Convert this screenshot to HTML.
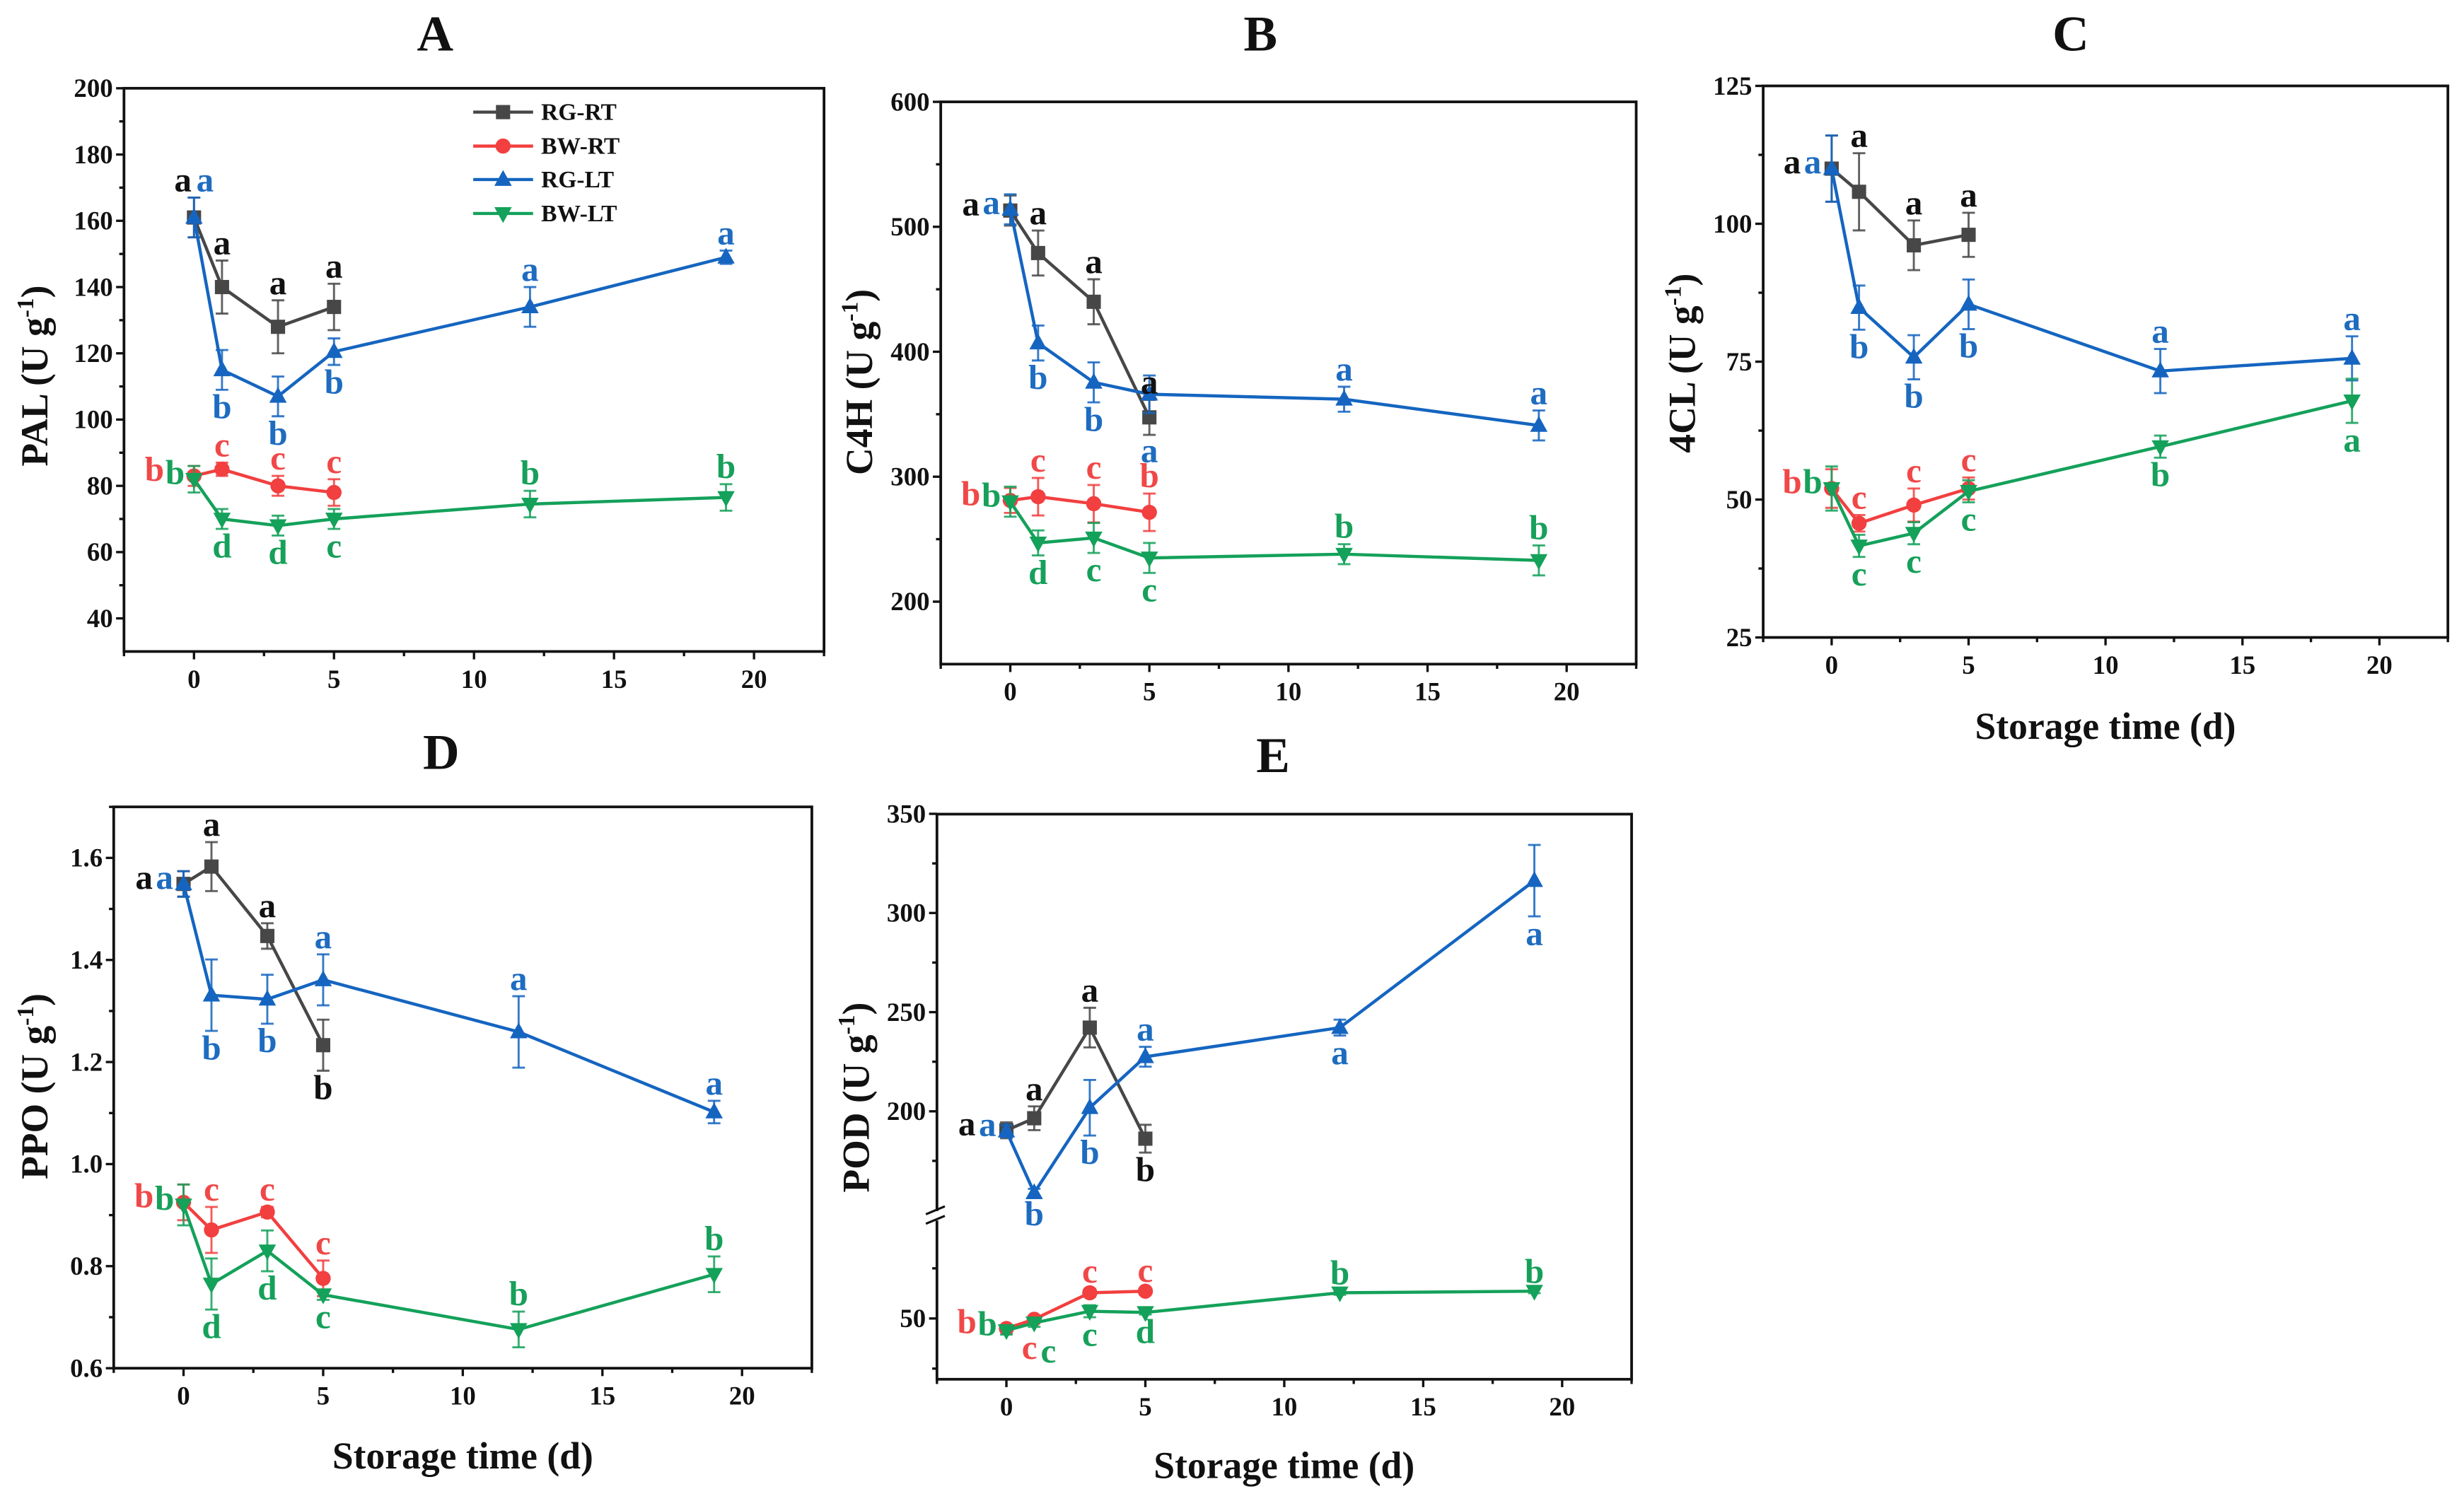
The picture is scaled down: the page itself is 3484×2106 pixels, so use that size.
<!DOCTYPE html>
<html><head><meta charset="utf-8"><style>
html,body{margin:0;padding:0;background:#fff;}
svg{display:block;}
text{font-family:"Liberation Serif","DejaVu Serif",serif;font-weight:bold;}
</style></head><body>
<svg id="fig" xmlns="http://www.w3.org/2000/svg" width="3484" height="2106" viewBox="0 0 1560 943" preserveAspectRatio="none">
<rect x="0" y="0" width="1560" height="943" fill="#fff"/>
</svg>
<script>
// ---- data ----
const days = [0, 1, 3, 5, 12, 19];
const seriesNames = ['RG-RT', 'BW-RT', 'RG-LT', 'BW-LT'];
// Panel A (PAL)
const palRGRT = [161, 140, 128, 134];
const palRGRTerr = [6, 8, 8, 7];
const palBWRT = [83, 85, 80, 78];
const palBWRTerr = [3, 2, 3, 4];
const palRGLT = [161, 115, 107, 120.5, 134, 149];
const palRGLTerr = [6, 6, 6, 4, 6, 2];
const palBWLT = [82, 70, 68, 70, 74.5, 76.5];
const palBWLTerr = [4, 3, 3, 3, 4, 4];
// Panel B (C4H)
const c4hRGRT = [513, 479, 440, 347.5];
const c4hRGRTerr = [12, 18, 18, 14];
const c4hBWRT = [281, 284, 278.4, 271.5];
const c4hBWRTerr = [10, 15, 15, 15];
const c4hRGLT = [514, 407, 375.5, 366, 362, 341];
const c4hRGLTerr = [12, 14, 16, 15, 10, 12];
const c4hBWLT = [280, 247, 251, 235, 238, 233];
const c4hBWLTerr = [12, 10, 12, 12, 8, 12];
// Panel C (4CL)
const cl4RGRT = [110, 105.8, 96.1, 98];
const cl4RGRTerr = [6, 7, 4.5, 4];
const cl4BWRT = [52, 45.7, 49, 52];
const cl4BWRTerr = [3.5, 1.5, 3, 2];
const cl4RGLT = [110, 84.8, 75.8, 85.4, 73.3, 75.6];
const cl4RGLTerr = [6, 4, 4, 4.5, 4, 4];
const cl4BWLT = [52, 41.6, 43.9, 51.5, 59.6, 67.9];
const cl4BWLTerr = [4, 2, 2, 2, 2, 4];
// Panel D (PPO)
const ppoRGRT = [1.549, 1.583, 1.447, 1.233];
const ppoRGRTerr = [0.025, 0.048, 0.025, 0.05];
const ppoBWRT = [0.925, 0.871, 0.906, 0.776];
const ppoBWRTerr = [0.035, 0.045, 0.01, 0.035];
const ppoRGLT = [1.549, 1.331, 1.323, 1.361, 1.259, 1.102];
const ppoRGLTerr = [0.025, 0.07, 0.048, 0.05, 0.07, 0.022];
const ppoBWLT = [0.92, 0.765, 0.83, 0.744, 0.676, 0.784];
const ppoBWLTerr = [0.04, 0.05, 0.04, 0.01, 0.035, 0.035];
// Panel E (POD)
const podRGRT = [190.4, 196.5, 242.2, 186.2];
const podRGRTerr = [4, 6, 10, 7];
const podBWRT = [45, 49.6, 62.8, 63.6];
const podBWRTerr = [1.5, 1.5, 2, 1.5];
const podRGLT = [190, 158.9, 201.8, 227.5, 242.2, 316.3];
const podRGLTerr = [3, 2, 14, 5, 4, 18];
const podBWLT = [44, 47.8, 53.6, 53, 62.8, 63.6];
const podBWLTerr = [2, 2, 3, 1, 1, 1];
// tick labels
const xTicks = [0, 5, 10, 15, 20];
const palTicks = [40, 60, 80, 100, 120, 140, 160, 180, 200];
const c4hTicks = [200, 300, 400, 500, 600];
const cl4Ticks = [25, 50, 75, 100, 125];
const ppoTicks = [0.6, 0.8, 1.0, 1.2, 1.4, 1.6];
const podTicksUpper = [200, 250, 300, 350];
const podTicksLower = [50];
// significance letters: [series index, point index, letter, placement]
const palLetters = [[0,0,'a','U1'],[2,0,'a','U2'],[0,1,'a','u'],[0,2,'a','u'],[0,3,'a','u'],
 [2,1,'b','d'],[2,2,'b','d'],[2,3,'b','d'],[2,4,'a','u'],[2,5,'a','u'],
 [1,0,'b','L1'],[3,0,'b','L2'],[1,1,'c','u'],[1,2,'c','u'],[1,3,'c','u'],
 [3,1,'d','d'],[3,2,'d','d'],[3,3,'c','d'],[3,4,'b','u'],[3,5,'b','u']];
const c4hLetters = [[0,0,'a','L1'],[2,0,'a','L2'],[0,1,'a','u'],[0,2,'a','u'],[0,3,'a','u'],
 [2,1,'b','d'],[2,2,'b','d'],[2,3,'a','d2'],[2,4,'a','u'],[2,5,'a','u'],
 [1,0,'b','L1'],[3,0,'b','L2'],[1,1,'c','u'],[1,2,'c','u'],[1,3,'b','u'],
 [3,1,'d','d'],[3,2,'c','d'],[3,3,'c','d'],[3,4,'b','u'],[3,5,'b','u']];
const cl4Letters = [[0,0,'a','L1'],[2,0,'a','L2'],[0,1,'a','u'],[0,2,'a','u'],[0,3,'a','u'],
 [2,1,'b','d'],[2,2,'b','d'],[2,3,'b','d'],[2,4,'a','u'],[2,5,'a','u'],
 [1,0,'b','L1'],[3,0,'b','L2'],[1,1,'c','u'],[1,2,'c','u'],[1,3,'c','u'],
 [3,1,'c','d'],[3,2,'c','d'],[3,3,'c','d'],[3,4,'b','d'],[3,5,'a','d']];
const ppoLetters = [[0,0,'a','L1'],[2,0,'a','L2'],[0,1,'a','u'],[0,2,'a','u'],[0,3,'b','d'],
 [2,1,'b','d'],[2,2,'b','d'],[2,3,'a','u'],[2,4,'a','u'],[2,5,'a','u'],
 [1,0,'b','L1'],[3,0,'b','L2'],[1,1,'c','u'],[1,2,'c','u'],[1,3,'c','u'],
 [3,1,'d','d'],[3,2,'d','d'],[3,3,'c','d'],[3,4,'b','u'],[3,5,'b','u']];
const podLetters = [[0,0,'a','L1'],[2,0,'a','L2'],[0,1,'a','u'],[0,2,'a','u'],[0,3,'b','d'],
 [2,1,'b','d'],[2,2,'b','d'],[2,3,'a','u'],[2,4,'a','d'],[2,5,'a','d'],
 [1,0,'b','L1'],[3,0,'b','L2'],[1,1,'c','D1'],[1,2,'c','u'],[1,3,'c','u'],
 [3,1,'c','D2'],[3,2,'c','d'],[3,3,'d','d'],[3,4,'b','u'],[3,5,'b','u']];

// ---- rendering ----
const NS = 'http://www.w3.org/2000/svg';
const svg = document.getElementById('fig');
const lineCol = ['#474747', '#f23f3f', '#1565c0', '#14a15a'];
const textCol = ['#111111', '#f04848', '#1e6cc0', '#17a05a'];
const markers = ['square', 'circle', 'up', 'down'];
function mk(tag, attrs, parent) {
  const e = document.createElementNS(NS, tag);
  for (const k in attrs) e.setAttribute(k, attrs[k]);
  (parent || svg).appendChild(e);
  return e;
}
function marker(g, type, x, y, col) {
  if (type === 'square') return mk('rect', {x: x-4.5, y: y-4.5, width: 9, height: 9, fill: col}, g);
  if (type === 'circle') return mk('circle', {cx: x, cy: y, r: 4.8, fill: col}, g);
  if (type === 'up') return mk('polygon', {points: `${x},${y-6} ${x-5.5},${y+4} ${x+5.5},${y+4}`, fill: col}, g);
  return mk('polygon', {points: `${x},${y+6} ${x-5.5},${y-4} ${x+5.5},${y-4}`, fill: col}, g);
}
function panel(p) {
  const g = mk('g', {});
  
  
  const X = d => p.x0 + (d - (-2.5)) / 25 * (p.x1 - p.x0);
  const Y = p.yfn;
  const fr = mk('rect', {x: p.x0, y: p.y0, width: p.x1 - p.x0, height: p.y1 - p.y0, fill: 'none', stroke: '#111', 'stroke-width': 1.7}, g);
  
  
  for (let d = -2.5; d <= 22.5; d += 2.5) {
    const major = xTicks.includes(d);
    mk('line', {x1: X(d), x2: X(d), y1: p.y1, y2: p.y1 + (major ? 5 : 3), stroke: '#111', 'stroke-width': 1.5}, g);
  }
  xTicks.forEach(t => {
    const tx = mk('text', {x: X(t), y: p.y1 + 23, 'font-size': 16.5, 'text-anchor': 'middle', fill: '#111'}, g);
    tx.textContent = t;
    
    
  });
  p.minor.forEach(v => mk('line', {x1: p.x0 - 3, x2: p.x0, y1: Y(v), y2: Y(v), stroke: '#111', 'stroke-width': 1.5}, g));
  p.ticks.forEach(v => {
    mk('line', {x1: p.x0 - 5, x2: p.x0, y1: Y(v), y2: Y(v), stroke: '#111', 'stroke-width': 1.5}, g);
    const tx = mk('text', {x: p.x0 - 7, y: Y(v) + 5.5, 'font-size': 16.5, 'text-anchor': 'end', fill: '#111'}, g);
    tx.textContent = p.fmt ? p.fmt(v) : v;
    
    
  });
  if (p.brk) {
    mk('rect', {x: p.x0 - 6, y: p.brk - 3, width: 10, height: 6, fill: '#fff'}, g);
    mk('line', {x1: p.x0 - 7, y1: p.brk - 1, x2: p.x0 + 5, y2: p.brk - 6, stroke: '#111', 'stroke-width': 1.4}, g);
    mk('line', {x1: p.x0 - 7, y1: p.brk + 5, x2: p.x0 + 5, y2: p.brk, stroke: '#111', 'stroke-width': 1.4}, g);
  }
  p.series.forEach((s, si) => {
    const sg = mk('g', {}, g);
    
    
    const pts = s.v.map((v, i) => [X(days[i]), Y(v)]);
    mk('polyline', {points: pts.map(q => q.join(',')).join(' '), fill: 'none', stroke: lineCol[si], 'stroke-width': 2}, sg);
    s.v.forEach((v, i) => {
      const x = X(days[i]), yt = Y(v + s.e[i]), yb = Y(v - s.e[i]);
      mk('line', {x1: x, x2: x, y1: yt, y2: yb, stroke: lineCol[si], 'stroke-width': 1.3, opacity: 0.85}, sg);
      mk('line', {x1: x - 4, x2: x + 4, y1: yt, y2: yt, stroke: lineCol[si], 'stroke-width': 1.3, opacity: 0.85}, sg);
      mk('line', {x1: x - 4, x2: x + 4, y1: yb, y2: yb, stroke: lineCol[si], 'stroke-width': 1.3, opacity: 0.85}, sg);
      const m = marker(sg, markers[si], x, Y(v), lineCol[si]);
      
      
    });
  });
  p.letters.forEach(([si, i, t, pos]) => {
    const s = p.series[si], v = s.v[i];
    let x = X(days[i]), y;
    if (pos === 'u') y = Y(v + s.e[i]) - 4;
    else if (pos === 'd') y = Y(v - s.e[i]) + 18;
    else if (pos === 'd2') y = Y(v - s.e[i]) + 31;
    else if (pos === 'U1') { x -= 7; y = Y(v + s.e[i]) - 4; }
    else if (pos === 'U2') { x += 7; y = Y(v + s.e[i]) - 4; }
    else if (pos === 'L1') { x -= 25; y = Y(v) + 3; }
    else if (pos === 'L2') { x -= 12; y = Y(v) + 3; }
    else if (pos === 'D1') { x -= 3; y = Y(v) + 25; }
    else if (pos === 'D2') { x += 9; y = Y(v) + 25; }
    const tx = mk('text', {x: x, y: y, 'font-size': 22, 'text-anchor': 'middle', fill: textCol[si]}, g);
    tx.textContent = t;
    
    
  });
  const tt = mk('text', {x: p.tx, y: p.ty, 'font-size': 32, 'text-anchor': 'middle', fill: '#111'}, g);
  tt.textContent = p.title;
  
  
  const yl = mk('text', {x: 0, y: 0, 'font-size': 24, 'text-anchor': 'middle', fill: '#111', transform: `translate(${p.lx},${p.ly}) rotate(-90)`}, g);
  
  
  const t1 = mk('tspan', {}, yl); t1.textContent = p.ylab + ' (U g';
  const t2 = mk('tspan', {dy: -9, 'font-size': 15}, yl); t2.textContent = '-1';
  const t3 = mk('tspan', {dy: 9}, yl); t3.textContent = ')';
  if (p.xlab) {
    const xl = mk('text', {x: p.xlx, y: p.xly, 'font-size': 24, 'text-anchor': 'middle', fill: '#111'}, g);
    xl.textContent = 'Storage time (d)';
    
    
  }
  return g;
}
function lin(top, bot, vmin, vmax) { return v => bot - (v - vmin) / (vmax - vmin) * (bot - top); }
function range(a, b, s) { const r = []; for (let v = a; v <= b + 1e-9; v += s) r.push(+v.toFixed(4)); return r; }

panel({name: 'pal', title: 'A', tx: 275.5, ty: 32, ylab: 'PAL', lx: 30, ly: 238,
  x0: 78.5, x1: 521.7, y0: 55.9, y1: 412.6, yfn: lin(55.9, 412.6, 30, 200),
  ticks: palTicks, minor: range(50, 190, 20),
  series: [{v: palRGRT, e: palRGRTerr}, {v: palBWRT, e: palBWRTerr}, {v: palRGLT, e: palRGLTerr}, {v: palBWLT, e: palBWLTerr}],
  letters: palLetters});
panel({name: 'c4h', title: 'B', tx: 798, ty: 32, ylab: 'C4H', lx: 552, ly: 242,
  x0: 595.6, x1: 1035.9, y0: 64.5, y1: 420.6, yfn: lin(64.5, 420.6, 150, 600),
  ticks: c4hTicks, minor: range(250, 550, 100),
  series: [{v: c4hRGRT, e: c4hRGRTerr}, {v: c4hBWRT, e: c4hBWRTerr}, {v: c4hRGLT, e: c4hRGLTerr}, {v: c4hBWLT, e: c4hBWLTerr}],
  letters: c4hLetters});
panel({name: 'cl4', title: 'C', tx: 1311, ty: 32, ylab: '4CL', lx: 1073, ly: 230,
  x0: 1116.3, x1: 1549.8, y0: 54.4, y1: 403.7, yfn: lin(54.4, 403.7, 25, 125),
  ticks: cl4Ticks, minor: range(37.5, 112.5, 25), fmt: v => v,
  xlab: true, xlx: 1333, xly: 468,
  series: [{v: cl4RGRT, e: cl4RGRTerr}, {v: cl4BWRT, e: cl4BWRTerr}, {v: cl4RGLT, e: cl4RGLTerr}, {v: cl4BWLT, e: cl4BWLTerr}],
  letters: cl4Letters});
panel({name: 'ppo', title: 'D', tx: 279.3, ty: 487, ylab: 'PPO', lx: 30, ly: 688,
  x0: 72, x1: 514, y0: 511, y1: 866.5, yfn: lin(511, 866.5, 0.6, 1.7),
  ticks: ppoTicks, minor: range(0.7, 1.7, 0.2), fmt: v => v.toFixed(1),
  xlab: true, xlx: 293, xly: 930,
  series: [{v: ppoRGRT, e: ppoRGRTerr}, {v: ppoBWRT, e: ppoBWRTerr}, {v: ppoRGLT, e: ppoRGLTerr}, {v: ppoBWLT, e: ppoBWLTerr}],
  letters: ppoLetters});
const podY = v => v >= 120 ? 703.8 - (v - 200) * 1.256 : 835 - (v - 50) * 1.27;
panel({name: 'pod', title: 'E', tx: 806, ty: 489, ylab: 'POD', lx: 550, ly: 695,
  x0: 593.2, x1: 1033, y0: 515.6, y1: 873.5, yfn: podY, brk: 770,
  ticks: podTicksUpper.concat(podTicksLower), minor: [175, 225, 275, 325, 25, 75],
  xlab: true, xlx: 813, xly: 936,
  series: [{v: podRGRT, e: podRGRTerr}, {v: podBWRT, e: podBWRTerr}, {v: podRGLT, e: podRGLTerr}, {v: podBWLT, e: podBWLTerr}],
  letters: podLetters});

const lg = mk('g', {});


const legendY = [71, 92.5, 113.7, 135.2];
seriesNames.forEach((n, i) => {
  const e = mk('g', {}, lg);
  
  
  mk('line', {x1: 299.6, x2: 337.5, y1: legendY[i], y2: legendY[i], stroke: lineCol[i], 'stroke-width': 2}, e);
  marker(e, markers[i], 318.5, legendY[i], lineCol[i]);
  const t = mk('text', {x: 342.6, y: legendY[i] + 5, 'font-size': 15, fill: '#111'}, e);
  t.textContent = n;
});
</script>
</body></html>
